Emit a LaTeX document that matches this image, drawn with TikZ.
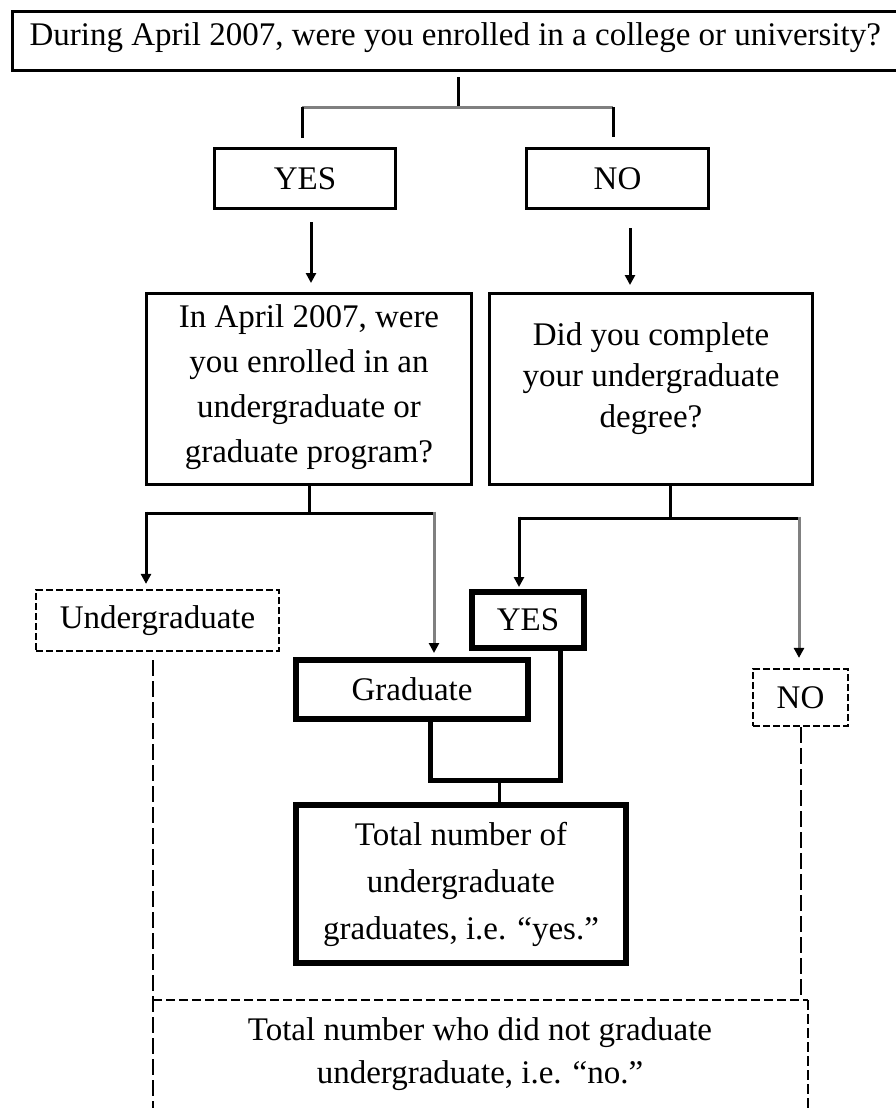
\documentclass[tikz,border=0pt]{standalone}
\usepackage{fontspec}
\setmainfont{Liberation Serif}
\usetikzlibrary{arrows.meta}
\tikzset{
  box/.style={draw, line width=3.2pt, inner sep=0pt, align=center},
  thickbox/.style={box, line width=6pt},
  dashbox/.style={box, line width=2.2pt, dash pattern=on 7pt off 3pt},
  txt/.style={align=center, inner sep=0pt},
  conn/.style={line width=3pt},
  grayconn/.style={line width=3pt, draw=black!50},
  tipA/.style={-{Triangle[length=10pt,width=10pt,color=black]}},
  arr/.style={conn, tipA},
  grayarr/.style={grayconn, tipA},
  heavy/.style={line width=5pt},
  dashv/.style={line width=2.2pt, dash pattern=on 16pt off 5pt},
  dashh/.style={line width=2.2pt, dash pattern=on 9pt off 4pt},
}
\begin{document}
\begin{tikzpicture}[x=1pt, y=-1pt, font=\fontsize{33}{44}\selectfont]
\useasboundingbox (0,0) rectangle (896,1108);

% boxes
\node[box, minimum width=885.4pt, minimum height=58.8pt, text height=23pt, text depth=13pt] (top) at (455.3,41)
  {During April 2007, were you enrolled in a college or university?};
\node[box, minimum width=180.8pt, minimum height=59.8pt] (yes1) at (305,178.5) {YES};
\node[box, minimum width=181.4pt, minimum height=59.8pt] (no1) at (617.5,178.5) {NO};

\node[box, minimum width=324.8pt, minimum height=190.8pt] (q1) at (309,389) {};
\node[txt, font=\fontsize{33}{45}\selectfont] (q1t) at (309,387)
  {In April 2007, were\\you enrolled in an\\undergraduate or\\graduate program?};
\node[box, minimum width=322.8pt, minimum height=190.8pt] (q2) at (651,389) {};
\node[txt, font=\fontsize{33}{41}\selectfont] (q2t) at (651,379)
  {Did you complete\\your undergraduate\\degree?};

\node[dashbox, minimum width=243pt, minimum height=61pt] (ug) at (157.5,620.5) {Undergraduate};
\node[thickbox, minimum width=112pt, minimum height=56pt] (yes2) at (528,620) {YES};
\node[thickbox, minimum width=232pt, minimum height=59pt] (grad) at (412,689.5) {Graduate};
\node[dashbox, minimum width=95pt, minimum height=57pt] (no2) at (800.5,697.5) {NO};

\node[thickbox, minimum width=330pt, minimum height=158pt, font=\fontsize{33}{47}\selectfont] (total) at (461,884)
  {Total number of\\undergraduate\\graduates, i.e. “yes.”};

\node[txt, font=\fontsize{33}{43}\selectfont] (nograd) at (480,1054)
  {Total number who did not graduate\\undergraduate, i.e. “no.”};

% top bracket
\coordinate (brc) at (458,107);
\coordinate (bl) at (302,107);
\coordinate (brr) at (613,107);
\draw[conn] ([yshift=-5pt]top.south -| brc) -- (brc);
\draw[grayconn] (bl) -- (brr);
\draw[conn] (bl) -- ([yshift=9pt]yes1.north -| bl);
\draw[conn] (brr) -- ([yshift=10pt]no1.north -| brr);

% arrows to questions
\coordinate (a1) at (311,0);
\coordinate (a2) at (630,0);
\draw[arr] ([yshift=-12pt]yes1.south -| a1) -- ([yshift=9pt]q1.north -| a1);
\draw[arr] ([yshift=-18pt]no1.south -| a2) -- ([yshift=7pt]q2.north -| a2);

% q1 branch
\coordinate (j1) at (309,513);
\coordinate (j1l) at (146,513);
\coordinate (j1r) at (434,513);
\draw[conn] (q1.south) -- (j1);
\draw[conn] (j1l) -- (j1r);
\draw[arr] ([yshift=1.5pt]j1l) -- ([yshift=5pt]ug.north -| j1l);
\draw[grayarr] ([yshift=1.5pt]j1r) -- ([yshift=4pt]grad.north -| j1r);

% q2 branch
\coordinate (j2) at (670,518);
\coordinate (j2l) at (519,518);
\coordinate (j2r) at (799,518);
\draw[conn] (q2.south -| j2) -- (j2);
\draw[conn] (j2l) -- (j2r);
\draw[arr] ([yshift=1.5pt]j2l) -- ([yshift=2pt]yes2.north -| j2l);
\draw[grayarr] ([yshift=1.5pt]j2r) -- ([yshift=10pt]no2.north -| j2r);

% join of Graduate and YES
\coordinate (u1) at (430,780);
\coordinate (u2) at (560,780);
\coordinate (um) at (499,780);
\draw[heavy] (grad.south -| u1) -- (u1) -- (u2) -- (yes2.south -| u2);
\draw[conn] (um) -- (total.north -| um);

% dashed "no" collection
\coordinate (d1) at (153,1000);
\coordinate (d1b) at (153,1110);
\coordinate (d2) at (801,1000);
\coordinate (d3) at (808,1000);
\coordinate (d3b) at (808,1110);
\draw[dashv] ([yshift=-8pt]ug.south -| d1) -- (d1b);
\draw[dashv] (no2.south -| d2) -- (d2);
\draw[dashv, dash pattern=on 10pt off 4pt] (d3) -- (d3b);
\draw[dashh] (d1) -- (d3);
\end{tikzpicture}
\end{document}
